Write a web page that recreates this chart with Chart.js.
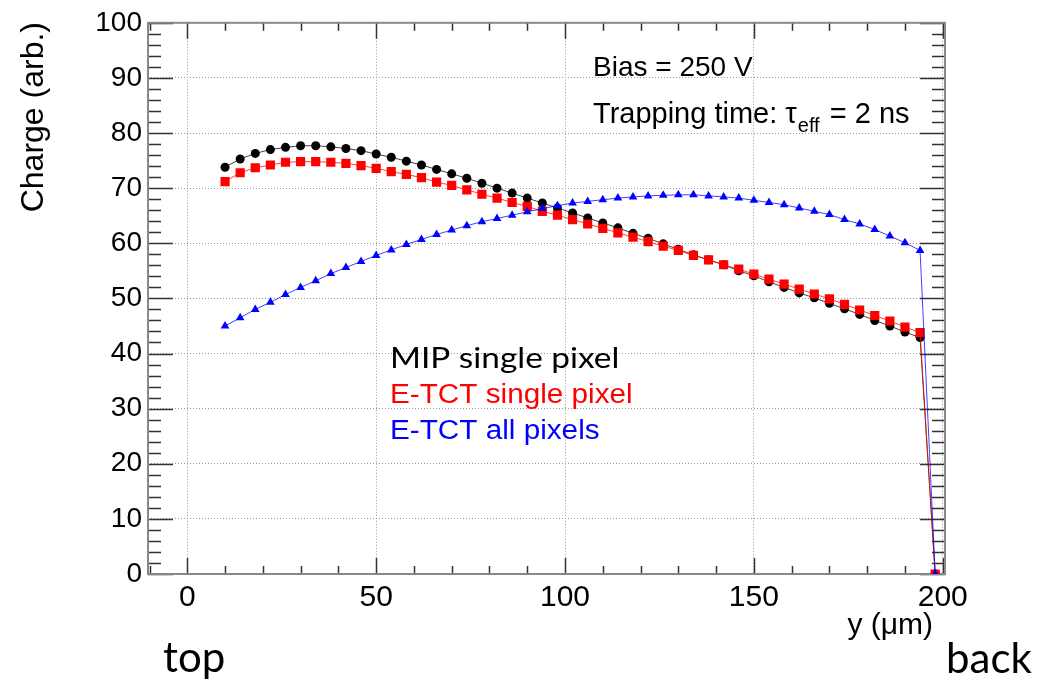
<!DOCTYPE html>
<html>
<head>
<meta charset="utf-8">
<script src="https://cdn.jsdelivr.net/npm/chart.js@4/dist/chart.umd.min.js"></script>
<style>
html, body { margin: 0; padding: 0; background: #fff; }
#wrap { width: 1054px; height: 682px; }
</style>
</head>
<body>
<div id="wrap"><canvas id="chart" width="1054" height="682"></canvas></div>
<script>

// positions along y (um)
let depth = [10, 14, 18, 22, 26, 30, 34, 38, 42, 46, 50, 54, 58, 62, 66, 70, 74, 78, 82, 86, 90, 94, 98, 102, 106, 110, 114, 118, 122, 126, 130, 134, 138, 142, 146, 150, 154, 158, 162, 166, 170, 174, 178, 182, 186, 190, 194, 198];

let mipSingle = [73.8, 75.3, 76.3, 77.0, 77.4, 77.7, 77.7, 77.5, 77.2, 76.8, 76.2, 75.6, 74.9, 74.2, 73.4,
  72.6, 71.8, 70.9, 70.0, 69.1, 68.2, 67.3, 66.4, 65.5, 64.6, 63.7, 62.8, 61.8, 60.9, 59.9, 58.9, 57.9, 57.0, 56.1,
  55.0, 54.1, 53.0, 52.0, 51.0, 50.1, 49.1, 48.1, 47.1, 46.0, 45.0, 43.9, 42.9, 0];

let etctSingle = [71.2, 72.8, 73.7, 74.2, 74.7, 74.8, 74.8, 74.7, 74.5, 74.1, 73.6, 73.0, 72.5, 71.9, 71.1,
  70.5, 69.7, 68.9, 68.2, 67.4, 66.7, 65.8, 65.1, 64.3, 63.5, 62.7, 61.9, 61.1, 60.3, 59.5, 58.7, 57.8, 57.0, 56.1,
  55.3, 54.4, 53.5, 52.6, 51.7, 50.8, 49.9, 48.9, 47.9, 46.9, 45.9, 44.8, 43.8, 0];

let etctAll = [45.0, 46.5, 48.0, 49.3, 50.7, 52.0, 53.2, 54.5, 55.6, 56.7, 57.8, 58.8, 59.8, 60.7, 61.6,
  62.4, 63.2, 63.9, 64.5, 65.1, 65.7, 66.3, 66.8, 67.3, 67.6, 67.9, 68.2, 68.4, 68.6, 68.7, 68.8, 68.8, 68.6, 68.4,
  68.2, 67.8, 67.4, 67.0, 66.4, 65.8, 65.2, 64.3, 63.5, 62.5, 61.3, 60.1, 58.7, 0];

let xTicks = [0, 50, 100, 150, 200];
let yTicks = [0, 10, 20, 30, 40, 50, 60, 70, 80, 90, 100];

function toPoints(vals){
  return vals.map(function(v, i){ return {x: depth[i], y: v}; });
}

// ROOT style frame with ticks on all sides
let framePlugin = {
  id: "frame",
  beforeDatasetsDraw: function(chart){
    let ctx = chart.ctx;
    let a = chart.chartArea;
    let xs = chart.scales.x;
    let ys = chart.scales.y;
    ctx.save();
    ctx.strokeStyle = "#333";
    ctx.lineWidth = 1.5;
    ctx.beginPath();
    for(let v = -10; v <= 200; v += 10){
      let px = Math.round(xs.getPixelForValue(v)) + 0.5;
      let len = (v % 50 === 0) ? 16 : 8;
      ctx.moveTo(px, a.bottom); ctx.lineTo(px, a.bottom - len);
      ctx.moveTo(px, a.top); ctx.lineTo(px, a.top + len);
    }
    for(let v = 0; v <= 100; v += 2){
      let py = Math.round(ys.getPixelForValue(v)) + 0.5;
      let len = (v % 10 === 0) ? 25 : 13;
      ctx.moveTo(a.left, py); ctx.lineTo(a.left + len, py);
      ctx.moveTo(a.right, py); ctx.lineTo(a.right - len, py);
    }
    ctx.stroke();
    ctx.strokeStyle = "#888";
    ctx.lineWidth = 2;
    ctx.strokeRect(a.left, a.top, a.right - a.left, a.bottom - a.top);
    ctx.restore();
  }
};

// text drawn a bit wider, like the pasted labels in the original slide
function wideText(ctx, txt, x, y, sx){
  ctx.save();
  ctx.translate(x, y);
  ctx.scale(sx, 1);
  ctx.fillText(txt, 0, 0);
  ctx.restore();
}

// labels and notes
let textPlugin = {
  id: "notes",
  afterDraw: function(chart){
    let ctx = chart.ctx;
    ctx.save();
    ctx.textBaseline = "alphabetic";
    ctx.fillStyle = "#000";
    ctx.font = "28px 'Liberation Sans'";
    ctx.fillText("Bias = 250 V", 593, 76);

    let x = 593;
    let part = "Trapping time: \u03c4";
    ctx.font = "29px 'Liberation Sans'";
    ctx.fillText(part, x, 123);
    x += ctx.measureText(part).width;
    ctx.font = "20px 'Liberation Sans'";
    ctx.fillText("eff", x + 1, 132);
    x += ctx.measureText("eff").width + 3;
    ctx.font = "29px 'Liberation Sans'";
    ctx.fillText(" = 2 ns", x, 123);

    ctx.font = "29px Lato";
    wideText(ctx, "MIP single pixel", 390, 368, 1.15);
    ctx.font = "27px 'Liberation Sans'";
    ctx.fillStyle = "#ff0000";
    wideText(ctx, "E-TCT single pixel", 390, 403, 1.1);
    ctx.fillStyle = "#0000ff";
    wideText(ctx, "E-TCT all pixels", 390, 439, 1.1);

    ctx.fillStyle = "#000";
    ctx.font = "30px 'Liberation Sans'";
    ctx.textAlign = "right";
    ctx.fillText("y (\u03bcm)", 933, 634);

    ctx.save();
    ctx.translate(43, 22);
    ctx.rotate(-Math.PI / 2);
    ctx.textAlign = "right";
    ctx.font = "32px 'Liberation Sans'";
    ctx.fillText("Charge (arb.)", 0, 0);
    ctx.restore();

    ctx.textAlign = "left";
    ctx.font = "42px Lato";
    ctx.fillText("top", 163, 672);
    ctx.fillText("back", 946, 673);
    ctx.restore();
  }
};

let ctx = document.getElementById("chart");

new Chart(ctx, {
  type: "line",
  data: {
    datasets: [
      {
        label: "E-TCT all pixels",
        data: toPoints(etctAll),
        borderColor: "rgba(0,0,255,0.75)",
        backgroundColor: "#0000ff",
        borderWidth: 1,
        pointStyle: "triangle",
        pointRadius: 5,
        pointBorderWidth: 0,
        tension: 0
      },
      {
        label: "E-TCT single pixel",
        data: toPoints(etctSingle),
        borderColor: "rgba(255,0,0,0.75)",
        backgroundColor: "#ff0000",
        borderWidth: 1,
        pointStyle: "rect",
        pointRadius: 6.5,
        pointBorderWidth: 0,
        tension: 0
      },
      {
        label: "MIP single pixel",
        data: toPoints(mipSingle),
        borderColor: "rgba(0,0,0,0.75)",
        backgroundColor: "#000000",
        borderWidth: 1,
        pointStyle: "circle",
        pointRadius: 4.5,
        pointBorderWidth: 0,
        tension: 0
      }
    ]
  },
  options: {
    responsive: false,
    animation: false,
    layout: { padding: { top: 20, right: 109, bottom: 0, left: 0 } },
    plugins: {
      legend: { display: false },
      tooltip: { enabled: false }
    },
    scales: {
      x: {
        type: "linear",
        min: -10.4,
        max: 200.6,
        afterFit: function(scale){ scale.height = 108; },
        afterBuildTicks: function(scale){
          scale.ticks = xTicks.map(function(v){ return {value: v}; });
        },
        grid: { color: "#999", lineWidth: 1, drawTicks: false },
        border: { display: false, dash: [1, 2] },
        ticks: {
          padding: 6,
          color: "#000",
          maxRotation: 0,
          font: { family: "'Liberation Sans'", size: 30 }
        }
      },
      y: {
        type: "linear",
        min: 0,
        max: 100,
        afterFit: function(scale){ scale.width = 148; },
        afterBuildTicks: function(scale){
          scale.ticks = yTicks.map(function(v){ return {value: v}; });
        },
        grid: { color: "#999", lineWidth: 1, drawTicks: false },
        border: { display: false, dash: [1, 2] },
        ticks: {
          padding: 6,
          color: "#000",
          font: { family: "'Liberation Sans'", size: 28 }
        }
      }
    }
  },
  plugins: [framePlugin, textPlugin]
});
</script>
</body>
</html>
